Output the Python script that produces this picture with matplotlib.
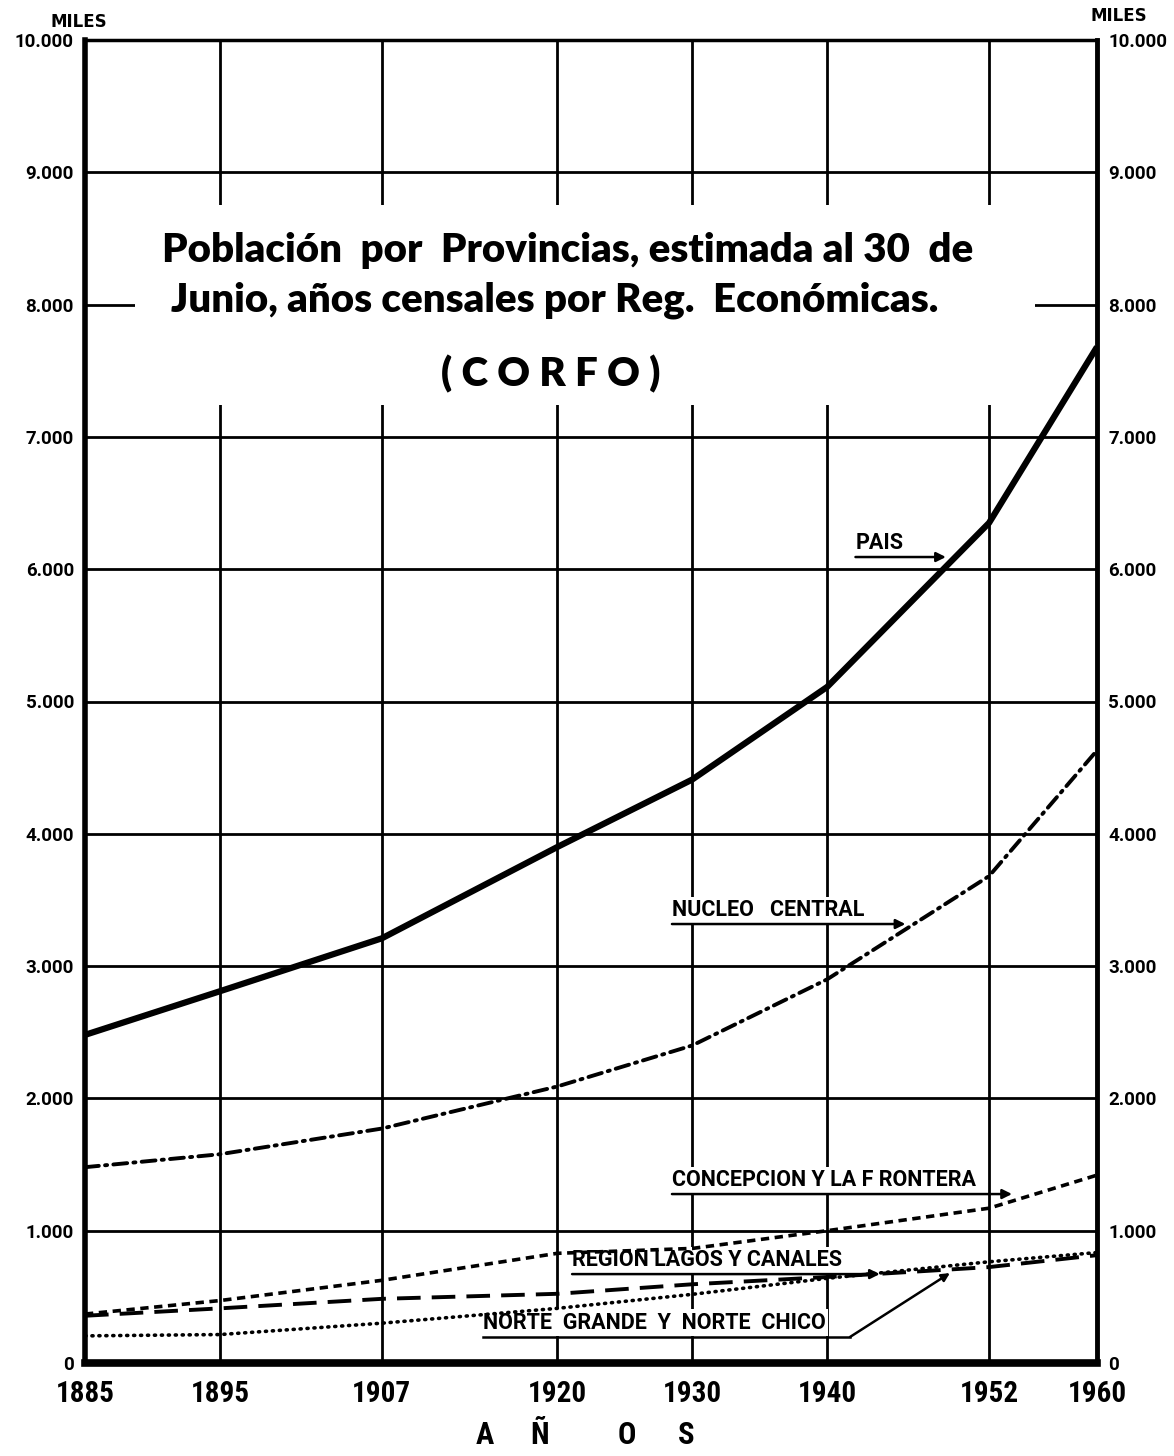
import matplotlib
matplotlib.use("Agg")
import matplotlib.pyplot as plt
from matplotlib.patches import Rectangle

plt.rcParams['lines.scale_dashes'] = False

# años censales y población estimada (miles)
years = [1885, 1895, 1907, 1920, 1930, 1940, 1952, 1960]
pais = [2480, 2810, 3210, 3900, 4410, 5110, 6350, 7680]
nucleo_central = [1480, 1578, 1772, 2090, 2400, 2900, 3680, 4630]
concepcion_frontera = [370, 472, 625, 829, 866, 1000, 1170, 1420]
lagos_canales = [357, 413, 485, 523, 595, 650, 725, 815]
norte = [205, 215, 301, 413, 519, 640, 765, 835]

ytick_vals = list(range(0, 10001, 1000))
ytick_labels = ['0', '1.000', '2.000', '3.000', '4.000', '5.000',
                '6.000', '7.000', '8.000', '9.000', '10.000']

narrow = ['Liberation Sans Narrow', 'Roboto Condensed', 'DejaVu Sans Condensed',
          'Roboto']
plain = ['Roboto', 'DejaVu Sans']
title_font = ['Lato', 'DejaVu Sans']

fig = plt.figure(figsize=(11.74, 14.56), dpi=100)
ax = fig.add_axes([85/1174, 1 - 1363/1456, 1012/1174, 1323/1456])

ax.set_xlim(1885, 1960)
ax.set_ylim(0, 10000)
ax.set_xticks(years)
ax.set_xticklabels([str(y) for y in years], fontsize=21, fontweight='bold',
                   family=narrow)
ax.set_yticks(ytick_vals)
ax.set_yticklabels(ytick_labels, fontsize=13.5, fontweight='bold', family=plain)
ax.tick_params(axis='y', length=0, pad=8, labelright=True)
ax.tick_params(axis='x', length=0, pad=12)
ax.grid(True, color='black', lw=2.0, zorder=1)
ax.set_axisbelow(True)
for side, w in [('left', 4), ('right', 3.5), ('bottom', 5.5), ('top', 2.5)]:
    ax.spines[side].set_linewidth(w)
    ax.spines[side].set_zorder(5)

# hueco blanco del título sobre la cuadrícula
ax.add_patch(Rectangle((0.049, 0.724), 0.89, 0.151, transform=ax.transAxes,
                       facecolor='white', edgecolor='none', zorder=2))

ax.plot(years, pais, color='black', lw=4.5, solid_capstyle='butt', zorder=3)
ax.plot(years, nucleo_central, color='black', lw=2.8, zorder=3,
        dashes=(10, 4.5, 1.5, 4.5), dash_capstyle='round')
ax.plot(years, concepcion_frontera, color='black', lw=2.6, zorder=3,
        dashes=(6, 4))
ax.plot(years, lagos_canales, color='black', lw=2.8, zorder=3,
        dashes=(17, 8))
ax.plot(years, norte, color='black', lw=2.6, zorder=3,
        dashes=(0.8, 4.2), dash_capstyle='round')

for txt, yy, xx in [('Población  por  Provincias, estimada al 30  de', 0.841, 0.477),
                    ('Junio, años censales por Reg.  Económicas.', 0.803, 0.464),
                    ('( C O R F O )', 0.747, 0.46)]:
    ax.text(xx, yy, txt, transform=ax.transAxes, ha='center', va='center',
            fontsize=29, fontweight='heavy', family=title_font, zorder=4)

box = dict(facecolor='white', edgecolor='none', pad=1.5)
arrow = dict(arrowstyle='-|>', color='black', lw=1.8, mutation_scale=14,
             shrinkA=0, shrinkB=0)
labels = [
    ('PAIS', 1942.1, 6092, 1948.8),
    ('NUCLEO   CENTRAL', 1928.5, 3318, 1945.8),
    ('CONCEPCION Y LA F RONTERA', 1928.5, 1277, 1953.7),
    ('REGION LAGOS Y CANALES', 1921.1, 672, 1943.9),
]
for txt, x0, y0, x1 in labels:
    ax.text(x0, y0 + 25, txt, ha='left', va='bottom', fontsize=15.5,
            fontweight='bold', family=plain, zorder=2.5, bbox=box)
    ax.annotate('', xy=(x1, y0), xytext=(x0, y0), arrowprops=arrow, zorder=4)

ax.text(1914.5, 222, 'NORTE  GRANDE  Y  NORTE  CHICO', ha='left', va='bottom',
        fontsize=15.5, fontweight='bold', family=plain, zorder=2.5, bbox=box)
ax.plot([1914.5, 1941.7], [197, 197], color='black', lw=1.8, zorder=4)
ax.annotate('', xy=(1949.1, 680), xytext=(1941.7, 197),
            arrowprops=dict(arrowstyle='-|>', color='black', lw=1.8,
                            mutation_scale=12, shrinkA=0, shrinkB=0), zorder=4)

fig.text(50/1174, 1 - 22/1456, 'MILES', ha='left', va='center', fontsize=12,
         fontweight='bold')
fig.text(1090/1174, 1 - 16/1456, 'MILES', ha='left', va='center', fontsize=12,
         fontweight='bold')
for letter, px in [('A', 485), ('Ñ', 540), ('O', 627), ('S', 686)]:
    fig.text(px/1174, 1 - 1435/1456, letter, ha='center', va='center',
             fontsize=22, fontweight='bold', family=narrow)

fig.savefig('out.png', dpi=100, facecolor='white')
